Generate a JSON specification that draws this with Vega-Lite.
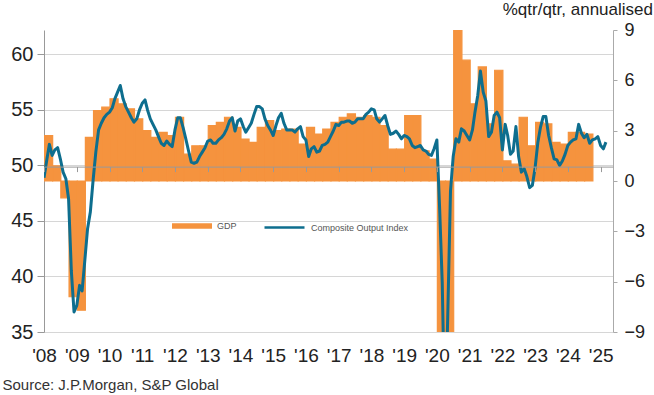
{
  "$schema": "https://vega.github.io/schema/vega-lite/v6.json",
  "width": 569,
  "height": 302,
  "autosize": "none",
  "padding": {"left": 44, "top": 30, "right": 41, "bottom": 63},
  "background": "white",
  "config": {
    "font": "Liberation Sans",
    "view": {"stroke": null}
  },
  "title": {
    "text": "%qtr/qtr, annualised",
    "anchor": "end",
    "frame": "group",
    "dx": 40,
    "dy": 17,
    "offset": 6,
    "baseline": "alphabetic",
    "fontSize": 17,
    "fontWeight": "normal",
    "color": "#222"
  },
  "datasets": {
    "gdp": [
      {"quarter": "2008-01", "gdp": 2.7}, {"quarter": "2008-04", "gdp": 0.9}, {"quarter": "2008-07", "gdp": -1.0}, {"quarter": "2008-10", "gdp": -6.9},
      {"quarter": "2009-01", "gdp": -7.7}, {"quarter": "2009-04", "gdp": 2.6}, {"quarter": "2009-07", "gdp": 4.2}, {"quarter": "2009-10", "gdp": 4.4},
      {"quarter": "2010-01", "gdp": 4.9}, {"quarter": "2010-04", "gdp": 4.6}, {"quarter": "2010-07", "gdp": 4.3}, {"quarter": "2010-10", "gdp": 3.7},
      {"quarter": "2011-01", "gdp": 3.0}, {"quarter": "2011-04", "gdp": 2.6}, {"quarter": "2011-07", "gdp": 2.9}, {"quarter": "2011-10", "gdp": 2.7},
      {"quarter": "2012-01", "gdp": 3.8}, {"quarter": "2012-04", "gdp": 1.6}, {"quarter": "2012-07", "gdp": 2.1}, {"quarter": "2012-10", "gdp": 2.1},
      {"quarter": "2013-01", "gdp": 3.3}, {"quarter": "2013-04", "gdp": 3.5}, {"quarter": "2013-07", "gdp": 3.8}, {"quarter": "2013-10", "gdp": 3.2},
      {"quarter": "2014-01", "gdp": 2.5}, {"quarter": "2014-04", "gdp": 2.3}, {"quarter": "2014-07", "gdp": 3.2}, {"quarter": "2014-10", "gdp": 3.6},
      {"quarter": "2015-01", "gdp": 3.0}, {"quarter": "2015-04", "gdp": 3.1}, {"quarter": "2015-07", "gdp": 3.1}, {"quarter": "2015-10", "gdp": 2.2},
      {"quarter": "2016-01", "gdp": 3.2}, {"quarter": "2016-04", "gdp": 2.8}, {"quarter": "2016-07", "gdp": 3.1}, {"quarter": "2016-10", "gdp": 3.5},
      {"quarter": "2017-01", "gdp": 3.8}, {"quarter": "2017-04", "gdp": 4.0}, {"quarter": "2017-07", "gdp": 3.8}, {"quarter": "2017-10", "gdp": 3.9},
      {"quarter": "2018-01", "gdp": 3.8}, {"quarter": "2018-04", "gdp": 3.3}, {"quarter": "2018-07", "gdp": 1.9}, {"quarter": "2018-10", "gdp": 1.9},
      {"quarter": "2019-01", "gdp": 3.9}, {"quarter": "2019-04", "gdp": 3.9}, {"quarter": "2019-07", "gdp": 1.8}, {"quarter": "2019-10", "gdp": 1.3},
      {"quarter": "2020-01", "gdp": -10.5}, {"quarter": "2020-04", "gdp": -30.0}, {"quarter": "2020-07", "gdp": 34.0}, {"quarter": "2020-10", "gdp": 7.2},
      {"quarter": "2021-01", "gdp": 4.6}, {"quarter": "2021-04", "gdp": 6.8}, {"quarter": "2021-07", "gdp": 3.4}, {"quarter": "2021-10", "gdp": 6.6},
      {"quarter": "2022-01", "gdp": 1.2}, {"quarter": "2022-04", "gdp": 1.0}, {"quarter": "2022-07", "gdp": 3.8}, {"quarter": "2022-10", "gdp": 2.1},
      {"quarter": "2023-01", "gdp": 3.5}, {"quarter": "2023-04", "gdp": 3.4}, {"quarter": "2023-07", "gdp": 2.3}, {"quarter": "2023-10", "gdp": 2.2},
      {"quarter": "2024-01", "gdp": 2.9}, {"quarter": "2024-04", "gdp": 2.9}, {"quarter": "2024-07", "gdp": 2.8}
    ],
    "pmi": [
      {"month": "2008-01", "pmi": 48.9}, {"month": "2008-02", "pmi": 50.5}, {"month": "2008-03", "pmi": 51.9}, {"month": "2008-04", "pmi": 50.9}, {"month": "2008-05", "pmi": 51.4}, {"month": "2008-06", "pmi": 51.6}, {"month": "2008-07", "pmi": 50.6}, {"month": "2008-08", "pmi": 49.4}, {"month": "2008-09", "pmi": 48.8}, {"month": "2008-10", "pmi": 47.0}, {"month": "2008-11", "pmi": 40.5}, {"month": "2008-12", "pmi": 36.8},
      {"month": "2009-01", "pmi": 37.4}, {"month": "2009-02", "pmi": 39.2}, {"month": "2009-03", "pmi": 38.7}, {"month": "2009-04", "pmi": 41.5}, {"month": "2009-05", "pmi": 44.3}, {"month": "2009-06", "pmi": 45.8}, {"month": "2009-07", "pmi": 48.6}, {"month": "2009-08", "pmi": 51.2}, {"month": "2009-09", "pmi": 53.2}, {"month": "2009-10", "pmi": 53.8}, {"month": "2009-11", "pmi": 54.3}, {"month": "2009-12", "pmi": 54.6},
      {"month": "2010-01", "pmi": 54.8}, {"month": "2010-02", "pmi": 55.2}, {"month": "2010-03", "pmi": 56.0}, {"month": "2010-04", "pmi": 56.6}, {"month": "2010-05", "pmi": 57.2}, {"month": "2010-06", "pmi": 56.0}, {"month": "2010-07", "pmi": 55.3}, {"month": "2010-08", "pmi": 54.8}, {"month": "2010-09", "pmi": 54.3}, {"month": "2010-10", "pmi": 53.9}, {"month": "2010-11", "pmi": 54.2}, {"month": "2010-12", "pmi": 55.0},
      {"month": "2011-01", "pmi": 55.6}, {"month": "2011-02", "pmi": 55.9}, {"month": "2011-03", "pmi": 55.0}, {"month": "2011-04", "pmi": 54.2}, {"month": "2011-05", "pmi": 53.7}, {"month": "2011-06", "pmi": 53.2}, {"month": "2011-07", "pmi": 52.6}, {"month": "2011-08", "pmi": 52.0}, {"month": "2011-09", "pmi": 51.8}, {"month": "2011-10", "pmi": 52.2}, {"month": "2011-11", "pmi": 51.9}, {"month": "2011-12", "pmi": 51.7},
      {"month": "2012-01", "pmi": 53.2}, {"month": "2012-02", "pmi": 54.3}, {"month": "2012-03", "pmi": 54.3}, {"month": "2012-04", "pmi": 53.4}, {"month": "2012-05", "pmi": 52.4}, {"month": "2012-06", "pmi": 51.3}, {"month": "2012-07", "pmi": 50.3}, {"month": "2012-08", "pmi": 50.2}, {"month": "2012-09", "pmi": 50.3}, {"month": "2012-10", "pmi": 50.8}, {"month": "2012-11", "pmi": 51.2}, {"month": "2012-12", "pmi": 51.6},
      {"month": "2013-01", "pmi": 52.2}, {"month": "2013-02", "pmi": 52.3}, {"month": "2013-03", "pmi": 52.0}, {"month": "2013-04", "pmi": 52.0}, {"month": "2013-05", "pmi": 52.3}, {"month": "2013-06", "pmi": 52.5}, {"month": "2013-07", "pmi": 52.8}, {"month": "2013-08", "pmi": 53.3}, {"month": "2013-09", "pmi": 54.0}, {"month": "2013-10", "pmi": 54.3}, {"month": "2013-11", "pmi": 53.1}, {"month": "2013-12", "pmi": 54.0},
      {"month": "2014-01", "pmi": 54.2}, {"month": "2014-02", "pmi": 53.5}, {"month": "2014-03", "pmi": 53.0}, {"month": "2014-04", "pmi": 53.4}, {"month": "2014-05", "pmi": 53.8}, {"month": "2014-06", "pmi": 54.6}, {"month": "2014-07", "pmi": 55.3}, {"month": "2014-08", "pmi": 55.3}, {"month": "2014-09", "pmi": 55.1}, {"month": "2014-10", "pmi": 54.2}, {"month": "2014-11", "pmi": 53.6}, {"month": "2014-12", "pmi": 53.2},
      {"month": "2015-01", "pmi": 52.7}, {"month": "2015-02", "pmi": 53.6}, {"month": "2015-03", "pmi": 54.3}, {"month": "2015-04", "pmi": 54.7}, {"month": "2015-05", "pmi": 53.8}, {"month": "2015-06", "pmi": 53.2}, {"month": "2015-07", "pmi": 53.2}, {"month": "2015-08", "pmi": 53.2}, {"month": "2015-09", "pmi": 53.0}, {"month": "2015-10", "pmi": 53.3}, {"month": "2015-11", "pmi": 53.5}, {"month": "2015-12", "pmi": 52.6},
      {"month": "2016-01", "pmi": 52.3}, {"month": "2016-02", "pmi": 50.8}, {"month": "2016-03", "pmi": 51.5}, {"month": "2016-04", "pmi": 51.7}, {"month": "2016-05", "pmi": 51.2}, {"month": "2016-06", "pmi": 51.3}, {"month": "2016-07", "pmi": 51.8}, {"month": "2016-08", "pmi": 51.9}, {"month": "2016-09", "pmi": 52.1}, {"month": "2016-10", "pmi": 52.6}, {"month": "2016-11", "pmi": 53.1}, {"month": "2016-12", "pmi": 53.7},
      {"month": "2017-01", "pmi": 53.6}, {"month": "2017-02", "pmi": 53.9}, {"month": "2017-03", "pmi": 53.9}, {"month": "2017-04", "pmi": 54.0}, {"month": "2017-05", "pmi": 54.0}, {"month": "2017-06", "pmi": 53.8}, {"month": "2017-07", "pmi": 53.9}, {"month": "2017-08", "pmi": 54.2}, {"month": "2017-09", "pmi": 54.2}, {"month": "2017-10", "pmi": 54.2}, {"month": "2017-11", "pmi": 54.6}, {"month": "2017-12", "pmi": 54.8},
      {"month": "2018-01", "pmi": 55.1}, {"month": "2018-02", "pmi": 55.0}, {"month": "2018-03", "pmi": 54.2}, {"month": "2018-04", "pmi": 53.9}, {"month": "2018-05", "pmi": 54.2}, {"month": "2018-06", "pmi": 54.5}, {"month": "2018-07", "pmi": 53.6}, {"month": "2018-08", "pmi": 52.8}, {"month": "2018-09", "pmi": 52.9}, {"month": "2018-10", "pmi": 53.1}, {"month": "2018-11", "pmi": 52.8}, {"month": "2018-12", "pmi": 52.4},
      {"month": "2019-01", "pmi": 52.7}, {"month": "2019-02", "pmi": 52.6}, {"month": "2019-03", "pmi": 52.4}, {"month": "2019-04", "pmi": 51.8}, {"month": "2019-05", "pmi": 51.6}, {"month": "2019-06", "pmi": 51.7}, {"month": "2019-07", "pmi": 51.8}, {"month": "2019-08", "pmi": 51.4}, {"month": "2019-09", "pmi": 51.3}, {"month": "2019-10", "pmi": 51.0}, {"month": "2019-11", "pmi": 50.9}, {"month": "2019-12", "pmi": 51.5},
      {"month": "2020-01", "pmi": 52.3}, {"month": "2020-02", "pmi": 46.1}, {"month": "2020-03", "pmi": 39.4}, {"month": "2020-04", "pmi": 26.2}, {"month": "2020-05", "pmi": 36.3}, {"month": "2020-06", "pmi": 47.7}, {"month": "2020-07", "pmi": 50.8}, {"month": "2020-08", "pmi": 52.4}, {"month": "2020-09", "pmi": 52.1}, {"month": "2020-10", "pmi": 53.3}, {"month": "2020-11", "pmi": 53.1}, {"month": "2020-12", "pmi": 52.7},
      {"month": "2021-01", "pmi": 52.3}, {"month": "2021-02", "pmi": 53.2}, {"month": "2021-03", "pmi": 54.8}, {"month": "2021-04", "pmi": 56.3}, {"month": "2021-05", "pmi": 58.5}, {"month": "2021-06", "pmi": 56.6}, {"month": "2021-07", "pmi": 55.8}, {"month": "2021-08", "pmi": 52.6}, {"month": "2021-09", "pmi": 53.0}, {"month": "2021-10", "pmi": 54.5}, {"month": "2021-11", "pmi": 54.8}, {"month": "2021-12", "pmi": 54.3},
      {"month": "2022-01", "pmi": 51.4}, {"month": "2022-02", "pmi": 53.7}, {"month": "2022-03", "pmi": 52.7}, {"month": "2022-04", "pmi": 51.0}, {"month": "2022-05", "pmi": 51.3}, {"month": "2022-06", "pmi": 53.5}, {"month": "2022-07", "pmi": 50.8}, {"month": "2022-08", "pmi": 49.4}, {"month": "2022-09", "pmi": 49.7}, {"month": "2022-10", "pmi": 49.0}, {"month": "2022-11", "pmi": 48.0}, {"month": "2022-12", "pmi": 48.2},
      {"month": "2023-01", "pmi": 49.8}, {"month": "2023-02", "pmi": 52.1}, {"month": "2023-03", "pmi": 53.4}, {"month": "2023-04", "pmi": 54.4}, {"month": "2023-05", "pmi": 54.4}, {"month": "2023-06", "pmi": 52.7}, {"month": "2023-07", "pmi": 51.6}, {"month": "2023-08", "pmi": 50.6}, {"month": "2023-09", "pmi": 50.5}, {"month": "2023-10", "pmi": 50.0}, {"month": "2023-11", "pmi": 50.4}, {"month": "2023-12", "pmi": 51.0},
      {"month": "2024-01", "pmi": 51.8}, {"month": "2024-02", "pmi": 52.1}, {"month": "2024-03", "pmi": 52.3}, {"month": "2024-04", "pmi": 52.4}, {"month": "2024-05", "pmi": 53.7}, {"month": "2024-06", "pmi": 52.9}, {"month": "2024-07", "pmi": 52.5}, {"month": "2024-08", "pmi": 52.8}, {"month": "2024-09", "pmi": 52.0}, {"month": "2024-10", "pmi": 52.3}, {"month": "2024-11", "pmi": 52.4}, {"month": "2024-12", "pmi": 52.6},
      {"month": "2025-01", "pmi": 51.8}, {"month": "2025-02", "pmi": 51.5}, {"month": "2025-03", "pmi": 52.1}
    ]
  },
  "layer": [
    {
      "data": {"name": "gdp"},
      "mark": {"type": "bar", "clip": true, "binSpacing": 0, "stroke": "#F5933E", "strokeWidth": 1.2},
      "encoding": {
        "x": {
          "field": "quarter",
          "type": "temporal",
          "timeUnit": "yearquarter",
          "scale": {"domain": [{"year": 2008, "month": 1, "date": 1}, {"year": 2025, "month": 5, "date": 19}]},
          "axis": {
            "orient": "bottom",
            "format": "'%y",
            "tickCount": {"interval": "year", "step": 1},
            "labelFontSize": 19,
            "labelColor": "#222",
            "labelPadding": 14,
            "labelFlush": false,
            "labelOverlap": false,
            "ticks": false,
            "domain": false,
            "grid": false,
            "title": "Source: J.P.Morgan, S&P Global",
            "titleX": -42,
            "titleY": 57,
            "titleAlign": "left",
            "titleAnchor": "start",
            "titleBaseline": "alphabetic",
            "titleFontSize": 15,
            "titleFontWeight": "normal",
            "titleColor": "#333"
          }
        },
        "y": {
          "field": "gdp",
          "type": "quantitative",
          "scale": {"domain": [-9, 9], "nice": false, "zero": false},
          "axis": {
            "orient": "right",
            "values": [-9, -6, -3, 0, 3, 6, 9],
            "grid": false,
            "domainColor": "#aaa",
            "tickColor": "#aaa",
            "tickSize": 4,
            "labelFontSize": 18,
            "labelColor": "#222",
            "labelPadding": 7,
            "title": null
          }
        },
        "fill": {
          "datum": "GDP",
          "type": "nominal",
          "scale": {"range": ["#F5933E"]},
          "legend": {
            "orient": "none",
            "legendX": 128,
            "legendY": 176,
            "title": null,
            "symbolType": "M-1,-0.14L1,-0.14L1,0.14L-1,0.14Z",
            "symbolSize": 1600,
            "symbolStrokeWidth": 0,
            "labelFontSize": 9,
            "labelColor": "#555",
            "labelOffset": 5
          }
        }
      }
    },
    {
      "data": {"name": "pmi"},
      "mark": {"type": "line", "clip": true, "strokeWidth": 3, "strokeJoin": "round"},
      "encoding": {
        "x": {
          "field": "month",
          "type": "temporal",
          "scale": {"domain": [{"year": 2008, "month": 1, "date": 1}, {"year": 2025, "month": 5, "date": 19}]},
          "axis": {
            "orient": "bottom",
            "offset": -165.4,
            "tickCount": {"interval": "year", "step": 1},
            "labels": false,
            "ticks": true,
            "tickSize": 5,
            "tickColor": "#999",
            "domain": true,
            "domainColor": "#999",
            "grid": false,
            "title": null,
            "zindex": 1
          }
        },
        "y": {
          "field": "pmi",
          "type": "quantitative",
          "scale": {"domain": [35, 62.2], "nice": false, "zero": false},
          "axis": {
            "orient": "left",
            "values": [35, 40, 45, 50, 55, 60],
            "grid": true,
            "gridColor": "#d6d6d6",
            "gridWidth": 1,
            "domainColor": "#999",
            "tickColor": "#999",
            "tickSize": 7,
            "labelFontSize": 20,
            "labelColor": "#222",
            "labelPadding": 4,
            "title": null
          }
        },
        "stroke": {
          "datum": "Composite Output Index",
          "type": "nominal",
          "scale": {"range": ["#0E6E8E"]},
          "legend": {
            "orient": "none",
            "legendX": 219,
            "legendY": 176,
            "title": null,
            "symbolType": "stroke",
            "symbolSize": 1600,
            "symbolStrokeWidth": 2.5,
            "labelFontSize": 9,
            "labelColor": "#555",
            "labelOffset": 5
          }
        }
      }
    }
  ],
  "resolve": {"scale": {"y": "independent"}, "axis": {"x": "independent"}}
}
